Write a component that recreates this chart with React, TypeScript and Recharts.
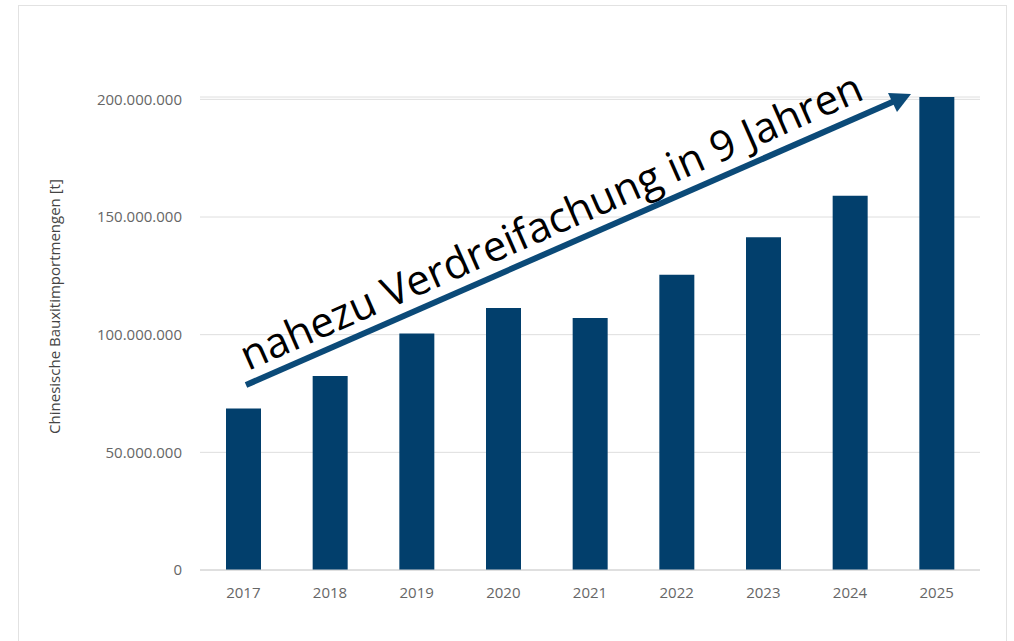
import React from 'react';
import { BarChart, Bar, XAxis, YAxis, CartesianGrid } from 'recharts';

const years = ['2017', '2018', '2019', '2020', '2021', '2022', '2023', '2024', '2025'];
const imports = [68600000, 82400000, 100500000, 111300000, 107100000, 125500000, 141400000, 159000000, 201000000];
const yTicks = [0, 50000000, 100000000, 150000000, 200000000];
const yLabel = 'Chinesische Bauxitimportmengen [t]';
const annotation = 'nahezu Verdreifachung in 9 Jahren';

const data = years.map((y, i) => ({ year: y, value: imports[i] }));

const fmt = (n: number) => String(n).replace(/\B(?=(\d{3})+(?!\d))/g, '.');

const FONT = '"Open Sans", "Noto Sans", sans-serif';
const BAR = '#023f6c';
const ARROW = '#0b4a78';

const YLabel = (props: any) => {
  const vb = props.viewBox || {};
  const x = (vb.x || 0) + 54;
  const y = (vb.y || 0) + (vb.height || 0) / 2 - 27;
  return (
    <text
      x={x}
      y={y}
      transform={`rotate(-90 ${x} ${y})`}
      textAnchor="middle"
      dominantBaseline="central"
      fontFamily={FONT}
      fontSize={15}
      fill="#444"
    >
      {yLabel}
    </text>
  );
};

export default function App() {
  return (
    <div style={{ position: 'absolute', left: 0, top: 0, width: 1014, height: 641, background: '#fff', overflow: 'hidden' }}>
      <div
        style={{
          position: 'absolute',
          left: 18,
          top: 5,
          width: 989,
          height: 700,
          border: '1px solid #e2e2e2',
          boxSizing: 'border-box',
        }}
      />
      <div style={{ position: 'absolute', left: 0, top: 0 }}>
        <BarChart
          width={1014}
          height={641}
          data={data}
          margin={{ top: 97, right: 34, bottom: 0, left: 0 }}
          barCategoryGap="30%"
        >
          <CartesianGrid vertical={false} stroke="#dedede" />
          <XAxis
            dataKey="year"
            height={71}
            tickLine={false}
            axisLine={{ stroke: '#d0d0d0' }}
            tickMargin={11}
            tick={{ fill: '#666', fontSize: 15, fontFamily: FONT }}
          />
          <YAxis
            width={200}
            domain={[0, 200000000]}
            ticks={yTicks}
            tickFormatter={fmt}
            tickLine={false}
            axisLine={false}
            tickMargin={12}
            tick={{ fill: '#666', fontSize: 15, fontFamily: FONT }}
            label={<YLabel />}
          />
          <Bar dataKey="value" fill={BAR} isAnimationActive={false} />
        </BarChart>
      </div>
      <svg
        width={1014}
        height={641}
        style={{ position: 'absolute', left: 0, top: 0, pointerEvents: 'none' }}
      >
        <line x1={246} y1={385} x2={897} y2={100} stroke={ARROW} strokeWidth={6} />
        <polygon points="911,94 888,93 897,112" fill={ARROW} />
        <text
          x={248}
          y={371}
          transform="rotate(-23.8 248 371)"
          fontFamily={FONT}
          fontSize={42}
          fill="#000"
        >
          {annotation}
        </text>
      </svg>
    </div>
  );
}
